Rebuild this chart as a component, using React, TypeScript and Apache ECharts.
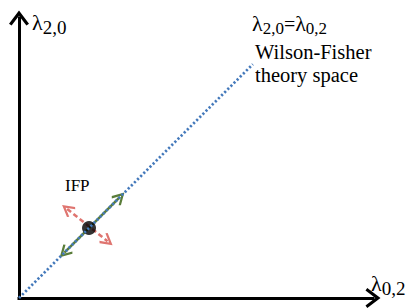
import React, { useEffect, useRef } from "react";
import * as echarts from "echarts";

// Theory-space coordinates (arbitrary units, equal scale on both axes)
const xRange = [0, 126.4];
const yRange = [0, 100];
const diagonal = [[0, 0], [83.5, 83.5]];
const fixedPoint = [[25, 25]];
const irrelevantFlow = [[16.2, 16.2], [36, 36]];
const relevantFlow = [[17.2, 31.8], [31.6, 20.3]];

const yAxisLabel = ["λ", "2,0"];
const xAxisLabel = ["λ", "0,2"];
const diagonalLabel = ["λ", "2,0", "=", "λ", "0,2"];
const theoryText = ["Wilson-Fisher", "theory space"];
const fixedPointText = "IFP";

const SERIF = "Liberation Serif, Times New Roman, serif";
const CHEVRON = "path://M10 0L20 13.2L17.4 15L10 5.2L2.6 15L0 13.2Z";

const axisRich = {
  l: { fontSize: 22, fontFamily: SERIF, fill: "#000" },
  s: { fontSize: 19, fontFamily: SERIF, fill: "#000", padding: [11, 0, 0, 0] },
};
const diagRich = {
  l: { fontSize: 22, fontFamily: SERIF, fill: "#000" },
  s: { fontSize: 17, fontFamily: SERIF, fill: "#000", padding: [10, 0, 0, 0] },
  e: { fontSize: 20, fontFamily: SERIF, fill: "#000" },
};

export default function App() {
  const ref = useRef<HTMLDivElement>(null);
  useEffect(() => {
    if (!ref.current) return;
    const chart = echarts.init(ref.current, undefined, { renderer: "svg" });
    const axisCommon = {
      type: "value" as const,
      axisTick: { show: false },
      axisLabel: { show: false },
      splitLine: { show: false },
      axisLine: {
        show: true,
        onZero: false,
        symbol: ["none", CHEVRON],
        symbolSize: [20, 15],
        lineStyle: { color: "#000", width: 3, cap: "square" },
      },
    };
    chart.setOption({
      animation: false,
      backgroundColor: "#fff",
      grid: { left: 19, right: 33, top: 18, bottom: 10 },
      xAxis: { ...axisCommon, min: xRange[0], max: xRange[1] },
      yAxis: { ...axisCommon, min: yRange[0], max: yRange[1] },
      series: [
        {
          type: "lines",
          coordinateSystem: "cartesian2d",
          z: 2,
          symbol: [CHEVRON, CHEVRON],
          symbolSize: 13,
          lineStyle: { color: "#df7570", width: 2.5, type: [5, 3], opacity: 1 },
          data: [{ coords: relevantFlow }],
        },
        {
          type: "lines",
          coordinateSystem: "cartesian2d",
          z: 3,
          symbol: [CHEVRON, CHEVRON],
          symbolSize: 13,
          lineStyle: { color: "#5a7d3a", width: 2.5, opacity: 1 },
          data: [{ coords: irrelevantFlow }],
        },
        {
          type: "scatter",
          z: 4,
          symbol: "circle",
          symbolSize: 14,
          itemStyle: { color: "#000" },
          data: fixedPoint,
        },
        {
          type: "line",
          z: 5,
          showSymbol: false,
          lineStyle: { color: "#4479bb", width: 2.7, type: [2.2, 2.2] },
          data: diagonal,
        },
      ],
      graphic: [
        {
          type: "text",
          x: 32,
          y: 7,
          style: {
            text: `{l|${yAxisLabel[0]}}{s|${yAxisLabel[1]}}`,
            rich: axisRich,
            align: "left",
            verticalAlign: "top",
          },
        },
        {
          type: "text",
          x: 371,
          y: 268,
          style: {
            text: `{l|${xAxisLabel[0]}}{s|${xAxisLabel[1]}}`,
            rich: axisRich,
            align: "left",
            verticalAlign: "top",
          },
        },
        {
          type: "text",
          x: 252,
          y: 10,
          style: {
            text: `{l|${diagonalLabel[0]}}{s|${diagonalLabel[1]}}{e|${diagonalLabel[2]}}{l|${diagonalLabel[3]}}{s|${diagonalLabel[4]}}`,
            rich: diagRich,
            align: "left",
            verticalAlign: "top",
          },
        },
        {
          type: "text",
          x: 255,
          y: 40,
          style: {
            text: theoryText.join("\n"),
            fontSize: 20.5,
            lineHeight: 23,
            fontFamily: SERIF,
            fill: "#000",
            align: "left",
            verticalAlign: "top",
          },
        },
        {
          type: "text",
          x: 65,
          y: 177,
          style: {
            text: fixedPointText,
            fontSize: 17,
            fontFamily: SERIF,
            fill: "#000",
            align: "left",
            verticalAlign: "top",
          },
        },
      ],
    });
    return () => chart.dispose();
  }, []);
  return (
    <div
      ref={ref}
      style={{ position: "fixed", left: 0, top: 0, width: 406, height: 308 }}
    />
  );
}
